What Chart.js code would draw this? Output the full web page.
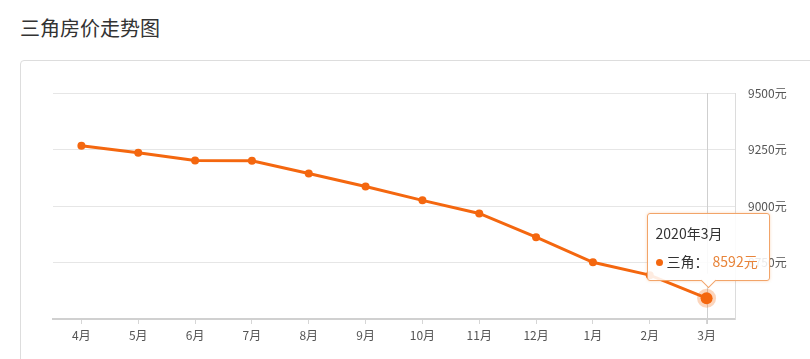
<!DOCTYPE html>
<html>
<head>
<meta charset="utf-8">
<script src="https://cdn.jsdelivr.net/npm/chart.js@4/dist/chart.umd.min.js"></script>
<style>
  body { margin: 0; width: 810px; height: 359px; overflow: hidden; background: #fff; font-family: "Noto Sans CJK SC", sans-serif; }
  h1 { position: absolute; left: 20px; top: 14px; margin: 0; font-size: 20px; font-weight: normal; color: #333; line-height: 28px; }
  .card { position: absolute; left: 20px; top: 60px; width: 830px; height: 340px; border: 1px solid #ddd; border-radius: 4px; box-sizing: border-box; }
  #wrap { position: absolute; left: 20px; top: 60px; width: 790px; height: 299px; }
  #tip { position: absolute; width: 123px; height: 68px; box-sizing: border-box; border: 1px solid #f2a469; border-radius: 3px;
         background: rgba(255,255,255,0.88); box-shadow: 0 0 3px rgba(240,140,60,0.35); color: #333; display: none; }
  #tip .t { position: absolute; left: 8px; top: 9px; line-height: 20px; font-size: 14px; }
  #tip .r { position: absolute; left: 8px; top: 36px; line-height: 22px; font-size: 14px; white-space: nowrap; }
  #tip .dot { display: inline-block; width: 7px; height: 7px; border-radius: 50%; background: #f4670f; margin-right: 4px; vertical-align: middle; position: relative; top: -1px; }
  #tip .v { color: #e8843a; margin-left: 4px; }
  #tip .caret { position: absolute; left: 55px; bottom: -6px; width: 10px; height: 10px; background: #fff;
                border-right: 1px solid #f2a469; border-bottom: 1px solid #f2a469; transform: rotate(45deg); }
</style>
</head>
<body>
<h1>三角房价走势图</h1>
<div class="card"></div>
<div id="wrap">
  <canvas id="chart"></canvas>
  <div id="tip"></div>
</div>
<script>
const months = ['4月', '5月', '6月', '7月', '8月', '9月', '10月', '11月', '12月', '1月', '2月', '3月'];
const periods = ['2019年4月', '2019年5月', '2019年6月', '2019年7月', '2019年8月', '2019年9月',
                 '2019年10月', '2019年11月', '2019年12月', '2020年1月', '2020年2月', '2020年3月'];
const prices = [9267, 9236, 9201, 9200, 9144, 9086, 9025, 8967, 8862, 8751, 8694, 8592];
const yTicks = [8500, 8750, 9000, 9250, 9500];
const seriesName = '三角';
const activeIndex = 11;

const orange = '#f4670f';

// vertical guide line at the hovered month
const crosshair = {
  id: 'crosshair',
  beforeDatasetsDraw(chart) {
    const active = chart.getActiveElements();
    if (!active.length) return;
    const x = active[0].element.x;
    const { ctx, chartArea } = chart;
    ctx.save();
    ctx.strokeStyle = '#cfcfcf';
    ctx.lineWidth = 1;
    ctx.beginPath();
    ctx.moveTo(Math.round(x) + 0.5, chartArea.top);
    ctx.lineTo(Math.round(x) + 0.5, chartArea.bottom + 5);
    ctx.stroke();
    ctx.restore();
  }
};

function renderTip({ chart, tooltip }) {
  const el = document.getElementById('tip');
  if (tooltip.opacity === 0 || !tooltip.dataPoints || !tooltip.dataPoints.length) {
    el.style.display = 'none';
    return;
  }
  const i = tooltip.dataPoints[0].dataIndex;
  el.innerHTML =
    '<div class="t">' + periods[i] + '</div>' +
    '<div class="r"><span class="dot"></span><span>' + seriesName + '：</span><span class="v">' + prices[i] + '元</span></div>' +
    '<div class="caret"></div>';
  el.style.display = 'block';
  el.style.left = (tooltip.caretX - 60) + 'px';
  el.style.top = (tooltip.caretY - 85) + 'px';
}

const chart = new Chart(document.getElementById('chart'), {
  type: 'line',
  data: {
    labels: months,
    datasets: [{
      label: seriesName,
      data: prices,
      borderColor: orange,
      backgroundColor: orange,
      borderWidth: 3,
      tension: 0,
      pointRadius: 4,
      pointBackgroundColor: orange,
      pointBorderWidth: 0,
      pointHoverRadius: 6,
      pointHoverBackgroundColor: orange,
      pointHoverBorderColor: 'rgba(244,103,15,0.28)',
      pointHoverBorderWidth: 7
    }]
  },
  options: {
    responsive: true,
    maintainAspectRatio: false,
    animation: false,
    layout: { padding: { left: 33, top: 33, right: 0, bottom: 0 } },
    interaction: { mode: 'index', intersect: false },
    plugins: {
      legend: { display: false },
      tooltip: { enabled: false, external: renderTip }
    },
    scales: {
      x: {
        offset: true,
        afterFit: (s) => { s.height = 40; },
        grid: { drawOnChartArea: false, drawTicks: true, tickLength: 5, color: '#d6d6d6' },
        border: { color: '#d0d0d0', width: 2 },
        ticks: { color: '#555', font: { size: 12, family: '"Noto Sans CJK SC"' }, padding: 4, maxRotation: 0, autoSkip: false }
      },
      y: {
        position: 'right',
        min: yTicks[0],
        max: yTicks[yTicks.length - 1],
        afterFit: (s) => { s.width = 75; },
        afterBuildTicks: (s) => { s.ticks = yTicks.map((v) => ({ value: v })); },
        grid: { color: '#e6e6e6', drawTicks: false },
        border: { display: true, color: '#dcdcdc' },
        ticks: {
          color: '#555',
          padding: 13,
          font: { size: 12, family: '"Noto Sans CJK SC"' },
          callback: (v) => (v === yTicks[0] ? '' : v + '元')
        }
      }
    }
  },
  plugins: [crosshair]
});

const pt = chart.getDatasetMeta(0).data[activeIndex];
chart.setActiveElements([{ datasetIndex: 0, index: activeIndex }]);
chart.tooltip.setActiveElements([{ datasetIndex: 0, index: activeIndex }], { x: pt.x, y: pt.y });
chart.update('none');
</script>
</body>
</html>
